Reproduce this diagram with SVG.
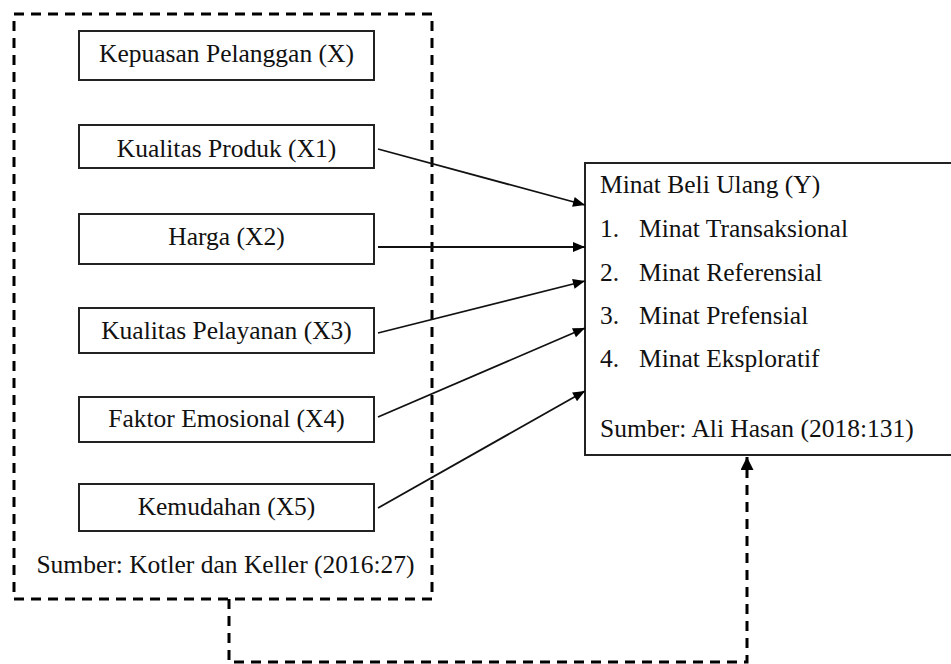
<svg xmlns="http://www.w3.org/2000/svg" width="951" height="664" viewBox="0 0 951 664">
<style>
  .box { fill: #fff; stroke: #222; stroke-width: 2; }
  .t { font-family: 'Liberation Serif', 'DejaVu Serif', serif; font-size: 25.5px; fill: #111; }
  .c { text-anchor: middle; }
  .dash { fill: none; stroke: #000; stroke-width: 3; stroke-dasharray: 10 7; }
  .arr { fill: none; stroke: #111; stroke-width: 1.8; }
</style>
<defs>
  <marker id="ah" viewBox="0 0 12 10" refX="12" refY="5" markerWidth="13" markerHeight="10" markerUnits="userSpaceOnUse" orient="auto">
    <path d="M0,0 L12,5 L0,10 Z" fill="#000"/>
  </marker>
  <marker id="ahd" viewBox="0 0 12 12" refX="12" refY="6" markerWidth="14" markerHeight="13" markerUnits="userSpaceOnUse" orient="auto">
    <path d="M0,0 L12,6 L0,12 Z" fill="#000"/>
  </marker>
</defs>
<rect width="951" height="664" fill="#fff"/>
<g id="group-x">
  <rect class="dash" x="14" y="14" width="418" height="585"/>
  <text class="t c" x="225.5" y="573">Sumber: Kotler dan Keller (2016:27)</text>
</g>
<g id="node-x">
  <rect class="box" x="79" y="31" width="295" height="49"/>
  <text class="t c" x="226.5" y="62">Kepuasan Pelanggan (X)</text>
</g>
<g id="node-x1">
  <rect class="box" x="79" y="125" width="295" height="43"/>
  <text class="t c" x="226.5" y="157">Kualitas Produk (X1)</text>
</g>
<g id="node-x2">
  <rect class="box" x="79" y="214" width="295" height="50"/>
  <text class="t c" x="226.5" y="245">Harga (X2)</text>
</g>
<g id="node-x3">
  <rect class="box" x="79" y="308" width="295" height="45"/>
  <text class="t c" x="226.5" y="339">Kualitas Pelayanan (X3)</text>
</g>
<g id="node-x4">
  <rect class="box" x="79" y="397" width="295" height="45"/>
  <text class="t c" x="226.5" y="427">Faktor Emosional (X4)</text>
</g>
<g id="node-x5">
  <rect class="box" x="79" y="484" width="295" height="47"/>
  <text class="t c" x="226.5" y="515">Kemudahan (X5)</text>
</g>
<g id="node-y">
  <rect class="box" x="585" y="163" width="370" height="292"/>
  <text class="t" x="600" y="193">Minat Beli Ulang (Y)</text>
  <text class="t" x="600" y="237">1.</text><text class="t" x="639" y="237">Minat Transaksional</text>
  <text class="t" x="600" y="281">2.</text><text class="t" x="639" y="281">Minat Referensial</text>
  <text class="t" x="600" y="324">3.</text><text class="t" x="639" y="324">Minat Prefensial</text>
  <text class="t" x="600" y="367">4.</text><text class="t" x="639" y="367">Minat Eksploratif</text>
  <text class="t" x="600" y="437">Sumber: Ali Hasan (2018:131)</text>
</g>
<g id="connectors">
  <line class="arr" x1="378" y1="149" x2="585" y2="205" marker-end="url(#ah)"/>
  <line class="arr" x1="378" y1="247" x2="585" y2="247" marker-end="url(#ah)"/>
  <line class="arr" x1="378" y1="333" x2="585" y2="281" marker-end="url(#ah)"/>
  <line class="arr" x1="378" y1="417" x2="585" y2="328" marker-end="url(#ah)"/>
  <line class="arr" x1="378" y1="508" x2="585" y2="391" marker-end="url(#ah)"/>
  <path class="dash" d="M229,599 L229,662 L747,662 L747,457" marker-end="url(#ahd)"/>
</g>
</svg>
